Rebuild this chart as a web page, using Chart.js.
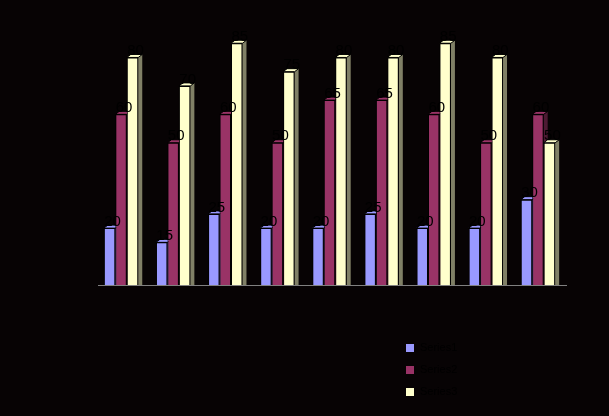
<!DOCTYPE html>
<html>
<head>
<meta charset="utf-8">
<script src="https://cdn.jsdelivr.net/npm/chart.js@4/dist/chart.umd.min.js"></script>
<style>
  html, body { margin:0; padding:0; background:#070304; }
  canvas { display:block; }
</style>
</head>
<body>
<canvas id="Chart" width="609" height="416"></canvas>
<script>
const categories = ['1','2','3','4','5','6','7','8','9'];
const seriesNames = ['Series1','Series2','Series3'];
const series1 = [20,15,25,20,20,25,20,20,30];
const series2 = [60,50,60,50,65,65,60,50,60];
const series3 = [80,70,85,75,80,80,85,80,50];
const colors = ['#9999ff','#993366','#ffffcc'];
const sideColors = ['#4d4d80','#4d1a33','#808066'];

const depth = {x:4, y:3};

// fake 3d: side + top faces behind each bar
const bar3d = {
    id:'bar3d',
    beforeDatasetsDraw(chart) {
        const c = chart.ctx;
        const base = chart.scales.y.getPixelForValue(0);
        // floor line
        c.save();
        c.strokeStyle = '#808080';
        c.lineWidth = 1;
        c.beginPath();
        c.moveTo(chart.chartArea.left + 3, base + 0.5);
        c.lineTo(chart.chartArea.right + 3, base + 0.5);
        c.stroke();
        chart.data.datasets.forEach((ds, i) => {
            chart.getDatasetMeta(i).data.forEach(bar => {
                const r = bar.x + bar.width/2;
                const l = bar.x - bar.width/2;
                c.fillStyle = sideColors[i];
                c.beginPath();
                c.moveTo(r, bar.y);
                c.lineTo(r + depth.x, bar.y - depth.y);
                c.lineTo(r + depth.x, base);
                c.lineTo(r, base);
                c.closePath();
                c.fill();
                c.fillStyle = colors[i];
                c.beginPath();
                c.moveTo(l, bar.y);
                c.lineTo(l + depth.x, bar.y - depth.y);
                c.lineTo(r + depth.x, bar.y - depth.y);
                c.lineTo(r, bar.y);
                c.closePath();
                c.fill();
                c.strokeStyle = '#000';
                c.stroke();
            });
        });
        c.restore();
    },
    afterDatasetsDraw(chart) {
        const c = chart.ctx;
        c.save();
        c.fillStyle = '#000';
        c.font = '15px "Liberation Sans", Arial';
        c.textAlign = 'center';
        c.textBaseline = 'bottom';
        chart.data.datasets.forEach((ds, i) => {
            chart.getDatasetMeta(i).data.forEach((bar, j) => {
                c.fillText(ds.data[j], bar.x + 3, bar.y + 1);
            });
        });
        // legend
        c.textAlign = 'left';
        c.textBaseline = 'middle';
        c.font = '11px "Liberation Sans", Arial';
        chart.data.datasets.forEach((ds, i) => {
            const y = 344 + i*22;
            c.fillStyle = colors[i];
            c.fillRect(406, y, 8, 8);
            c.fillStyle = '#000';
            c.fillText(ds.label, 420, y + 4);
        });
        c.restore();
    }
};

const ctx = document.getElementById('Chart');

new Chart(ctx, {
    type:'bar',
    data: {
        labels: categories,
        datasets: [series1, series2, series3].map((d, i) => ({
            label: seriesNames[i],
            data: d,
            backgroundColor: colors[i],
            borderColor: '#000',
            borderWidth: 1,
            categoryPercentage: 0.66,
            barPercentage: 1.0
        }))
    },
    options: {
        responsive:false,
        animation:false,
        layout: {
            padding: {left:95, right:45, top:29, bottom:131}
        },
        scales: {
            x: { display:false },
            y: { display:false, min:0, max:90 }
        },
        plugins: {
            legend: { display:false },
            tooltip: { enabled:false }
        }
    },
    plugins:[bar3d]
});
</script>
</body>
</html>
